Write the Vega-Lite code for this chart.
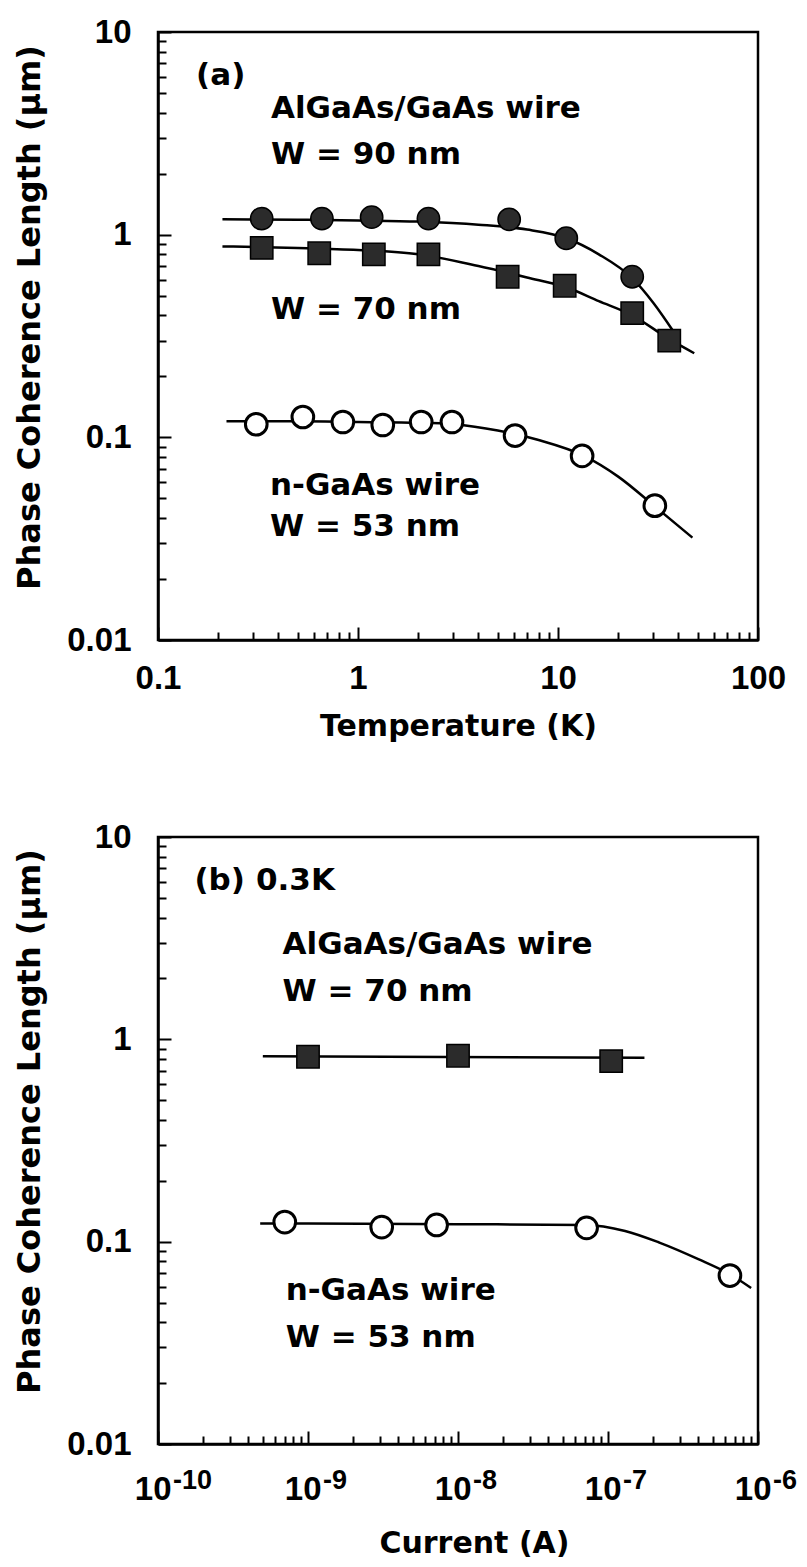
{
  "$schema": "https://vega.github.io/schema/vega-lite/v6.json",
  "background": "white",
  "padding": {"left": 12, "top": 14, "right": 15, "bottom": 5},
  "spacing": 197,
  "bounds": "flush",
  "config": {
    "view": {"stroke": "black", "strokeWidth": 2.5},
    "axis": {
      "grid": false,
      "domainColor": "black",
      "domainWidth": 2.5,
      "tickColor": "black",
      "tickWidth": 2,
      "labelColor": "black",
      "labelFont": "Liberation Sans",
      "labelFontWeight": "bold",
      "labelFontSize": 33,
      "labelOverlap": false,
      "labelFlush": false,
      "titleColor": "black",
      "titleFont": "DejaVu Sans",
      "titleFontWeight": "bold",
      "titleFontSize": 30
    }
  },
  "datasets": {
    "ptsA": [
      {"s": "w90", "T": 0.33, "L": 1.2},
      {"s": "w90", "T": 0.66, "L": 1.2},
      {"s": "w90", "T": 1.17, "L": 1.22},
      {"s": "w90", "T": 2.25, "L": 1.2},
      {"s": "w90", "T": 5.7, "L": 1.19},
      {"s": "w90", "T": 11, "L": 0.96},
      {"s": "w90", "T": 23.5, "L": 0.62},
      {"s": "w70", "T": 0.33, "L": 0.86},
      {"s": "w70", "T": 0.64, "L": 0.81},
      {"s": "w70", "T": 1.2, "L": 0.8},
      {"s": "w70", "T": 2.25, "L": 0.8},
      {"s": "w70", "T": 5.6, "L": 0.62},
      {"s": "w70", "T": 10.8, "L": 0.56},
      {"s": "w70", "T": 23.5, "L": 0.41},
      {"s": "w70", "T": 36, "L": 0.3},
      {"s": "n53", "T": 0.31, "L": 0.116},
      {"s": "n53", "T": 0.53, "L": 0.126},
      {"s": "n53", "T": 0.84, "L": 0.119},
      {"s": "n53", "T": 1.33, "L": 0.115},
      {"s": "n53", "T": 2.07, "L": 0.119},
      {"s": "n53", "T": 2.95, "L": 0.119},
      {"s": "n53", "T": 6.1, "L": 0.102},
      {"s": "n53", "T": 13.2, "L": 0.081},
      {"s": "n53", "T": 30.5, "L": 0.046}
    ],
    "fitA": [
      {"s": "w90", "T": 0.21, "L": 1.19},
      {"s": "w90", "T": 0.5, "L": 1.185},
      {"s": "w90", "T": 1, "L": 1.175},
      {"s": "w90", "T": 2, "L": 1.16},
      {"s": "w90", "T": 4, "L": 1.12},
      {"s": "w90", "T": 7, "L": 1.06},
      {"s": "w90", "T": 11, "L": 0.96},
      {"s": "w90", "T": 16, "L": 0.8},
      {"s": "w90", "T": 23.5, "L": 0.61},
      {"s": "w90", "T": 30, "L": 0.46},
      {"s": "w90", "T": 38, "L": 0.33},
      {"s": "w70", "T": 0.21, "L": 0.875},
      {"s": "w70", "T": 0.5, "L": 0.86},
      {"s": "w70", "T": 1, "L": 0.84},
      {"s": "w70", "T": 2, "L": 0.8},
      {"s": "w70", "T": 4, "L": 0.7},
      {"s": "w70", "T": 7, "L": 0.615},
      {"s": "w70", "T": 11, "L": 0.55},
      {"s": "w70", "T": 16, "L": 0.47},
      {"s": "w70", "T": 23.5, "L": 0.4},
      {"s": "w70", "T": 36, "L": 0.305},
      {"s": "w70", "T": 48, "L": 0.26},
      {"s": "n53", "T": 0.22, "L": 0.12},
      {"s": "n53", "T": 0.5, "L": 0.12},
      {"s": "n53", "T": 1, "L": 0.119},
      {"s": "n53", "T": 2, "L": 0.118},
      {"s": "n53", "T": 3, "L": 0.116},
      {"s": "n53", "T": 5, "L": 0.108},
      {"s": "n53", "T": 8, "L": 0.097},
      {"s": "n53", "T": 13.5, "L": 0.081},
      {"s": "n53", "T": 20, "L": 0.064},
      {"s": "n53", "T": 31, "L": 0.045},
      {"s": "n53", "T": 47, "L": 0.032}
    ],
    "txtA": [
      {"t": "(a)", "T": 0.155, "L": 5.46},
      {"t": "AlGaAs/GaAs wire", "T": 0.367, "L": 3.75},
      {"t": "W = 90 nm", "T": 0.367, "L": 2.23},
      {"t": "W = 70 nm", "T": 0.367, "L": 0.383},
      {"t": "n-GaAs wire", "T": 0.363, "L": 0.0519},
      {"t": "W = 53 nm", "T": 0.363, "L": 0.0325}
    ],
    "ptsB": [
      {"s": "w70", "I": 1e-9, "L": 0.82},
      {"s": "w70", "I": 1e-8, "L": 0.83},
      {"s": "w70", "I": 1.05e-7, "L": 0.78},
      {"s": "n53", "I": 7e-10, "L": 0.125},
      {"s": "n53", "I": 3.1e-9, "L": 0.118},
      {"s": "n53", "I": 7.2e-9, "L": 0.121},
      {"s": "n53", "I": 7.2e-8, "L": 0.117},
      {"s": "n53", "I": 6.5e-7, "L": 0.068}
    ],
    "fitB": [
      {"s": "w70", "I": 5e-10, "L": 0.825},
      {"s": "w70", "I": 1.75e-7, "L": 0.81},
      {"s": "n53", "I": 4.8e-10, "L": 0.123},
      {"s": "n53", "I": 1e-9, "L": 0.123},
      {"s": "n53", "I": 1e-8, "L": 0.122},
      {"s": "n53", "I": 7e-8, "L": 0.121},
      {"s": "n53", "I": 1.3e-7, "L": 0.113},
      {"s": "n53", "I": 2.2e-7, "L": 0.099},
      {"s": "n53", "I": 4e-7, "L": 0.082},
      {"s": "n53", "I": 6.5e-7, "L": 0.069},
      {"s": "n53", "I": 9e-7, "L": 0.059}
    ],
    "txtB": [
      {"t": "(b)", "I": 1.75e-10, "L": 5.47},
      {"t": "0.3K", "I": 4.5e-10, "L": 5.47},
      {"t": "AlGaAs/GaAs wire", "I": 6.77e-10, "L": 2.64},
      {"t": "W = 70 nm", "I": 6.77e-10, "L": 1.55},
      {"t": "n-GaAs wire", "I": 7.1e-10, "L": 0.0514},
      {"t": "W = 53 nm", "I": 7.1e-10, "L": 0.0301}
    ],
    "expB": [
      {"I": 1e-10, "e": "-10"},
      {"I": 1e-9, "e": "-9"},
      {"I": 1e-8, "e": "-8"},
      {"I": 1e-7, "e": "-7"},
      {"I": 1e-6, "e": "-6"}
    ]
  },
  "vconcat": [
    {
      "width": 600,
      "height": 608,
      "layer": [
        {
          "data": {"name": "fitA"},
          "mark": {"type": "line", "interpolate": "monotone", "color": "black", "strokeWidth": 2.5},
          "encoding": {
            "x": {
              "field": "T", "type": "quantitative",
              "scale": {"type": "log", "domain": [0.1, 100], "nice": false},
              "axis": {
                "title": "Temperature (K)",
                "values": [0.1,0.2,0.3,0.4,0.5,0.6,0.7,0.8,0.9,1,2,3,4,5,6,7,8,9,10,20,30,40,50,60,70,80,90,100],
                "labelExpr": "abs(log(datum.value)/LN10 - round(log(datum.value)/LN10)) < 0.001 ? format(datum.value, '~g') : ''",
                "tickSize": {"condition": {"test": "abs(log(datum.value)/LN10 - round(log(datum.value)/LN10)) < 0.001", "value": -13}, "value": -8},
                "labelPadding": 35,
                "titlePadding": 11
              }
            },
            "y": {
              "field": "L", "type": "quantitative",
              "scale": {"type": "log", "domain": [0.01, 10], "nice": false},
              "axis": {
                "title": "Phase Coherence Length (μm)",
                "titleFontSize": 32,
                "titleY": 285,
                "values": [0.01,0.02,0.03,0.04,0.05,0.06,0.07,0.08,0.09,0.1,0.2,0.3,0.4,0.5,0.6,0.7,0.8,0.9,1,2,3,4,5,6,7,8,9,10],
                "labelExpr": "abs(log(datum.value)/LN10 - round(log(datum.value)/LN10)) < 0.001 ? format(datum.value, '~g') : ''",
                "tickSize": {"condition": {"test": "abs(log(datum.value)/LN10 - round(log(datum.value)/LN10)) < 0.001", "value": -13}, "value": -8},
                "labelPadding": 40,
                "titlePadding": 20
              }
            },
            "detail": {"field": "s"}
          }
        },
        {
          "data": {"name": "ptsA"},
          "transform": [{"filter": "datum.s == 'w90'"}],
          "mark": {"type": "point", "shape": "circle", "filled": true, "fill": "#2b2b2b", "stroke": "black", "strokeWidth": 1.5, "size": 500, "opacity": 1},
          "encoding": {"x": {"field": "T", "type": "quantitative"}, "y": {"field": "L", "type": "quantitative"}}
        },
        {
          "data": {"name": "ptsA"},
          "transform": [{"filter": "datum.s == 'w70'"}],
          "mark": {"type": "point", "shape": "square", "filled": true, "fill": "#2b2b2b", "stroke": "black", "strokeWidth": 1.5, "size": 500, "opacity": 1},
          "encoding": {"x": {"field": "T", "type": "quantitative"}, "y": {"field": "L", "type": "quantitative"}}
        },
        {
          "data": {"name": "ptsA"},
          "transform": [{"filter": "datum.s == 'n53'"}],
          "mark": {"type": "point", "shape": "circle", "filled": true, "fill": "white", "stroke": "black", "strokeWidth": 3, "size": 470, "opacity": 1},
          "encoding": {"x": {"field": "T", "type": "quantitative"}, "y": {"field": "L", "type": "quantitative"}}
        },
        {
          "data": {"name": "txtA"},
          "mark": {"type": "text", "align": "left", "baseline": "alphabetic", "font": "DejaVu Sans", "fontWeight": "bold", "fontSize": 31, "color": "black"},
          "encoding": {"x": {"field": "T", "type": "quantitative"}, "y": {"field": "L", "type": "quantitative"}, "text": {"field": "t"}}
        }
      ]
    },
    {
      "width": 600,
      "height": 607,
      "layer": [
        {
          "data": {"name": "fitB"},
          "mark": {"type": "line", "interpolate": "monotone", "color": "black", "strokeWidth": 2.5},
          "encoding": {
            "x": {
              "field": "I", "type": "quantitative",
              "scale": {"type": "log", "domain": [1e-10, 1e-6], "nice": false},
              "axis": {
                "title": "Current (A)",
                "titleX": 316,
                "values": [1e-10,2e-10,3e-10,4e-10,5e-10,6e-10,7e-10,8e-10,9e-10,1e-9,2e-9,3e-9,4e-9,5e-9,6e-9,7e-9,8e-9,9e-9,1e-8,2e-8,3e-8,4e-8,5e-8,6e-8,7e-8,8e-8,9e-8,1e-7,2e-7,3e-7,4e-7,5e-7,6e-7,7e-7,8e-7,9e-7,1e-6],
                "labelExpr": "abs(log(datum.value)/LN10 - round(log(datum.value)/LN10)) < 0.001 ? '10' : ''",
                "labelAlign": "right",
                "labelOffset": 13,
                "tickSize": {"condition": {"test": "abs(log(datum.value)/LN10 - round(log(datum.value)/LN10)) < 0.001", "value": -13}, "value": -8},
                "labelPadding": 42,
                "titlePadding": 17
              }
            },
            "y": {
              "field": "L", "type": "quantitative",
              "scale": {"type": "log", "domain": [0.01, 10], "nice": false},
              "axis": {
                "title": "Phase Coherence Length (μm)",
                "titleFontSize": 32,
                "titleY": 284,
                "values": [0.01,0.02,0.03,0.04,0.05,0.06,0.07,0.08,0.09,0.1,0.2,0.3,0.4,0.5,0.6,0.7,0.8,0.9,1,2,3,4,5,6,7,8,9,10],
                "labelExpr": "abs(log(datum.value)/LN10 - round(log(datum.value)/LN10)) < 0.001 ? format(datum.value, '~g') : ''",
                "tickSize": {"condition": {"test": "abs(log(datum.value)/LN10 - round(log(datum.value)/LN10)) < 0.001", "value": -13}, "value": -8},
                "labelPadding": 40,
                "titlePadding": 20
              }
            },
            "detail": {"field": "s"}
          }
        },
        {
          "data": {"name": "ptsB"},
          "transform": [{"filter": "datum.s == 'w70'"}],
          "mark": {"type": "point", "shape": "square", "filled": true, "fill": "#2b2b2b", "stroke": "black", "strokeWidth": 1.5, "size": 500, "opacity": 1},
          "encoding": {"x": {"field": "I", "type": "quantitative"}, "y": {"field": "L", "type": "quantitative"}}
        },
        {
          "data": {"name": "ptsB"},
          "transform": [{"filter": "datum.s == 'n53'"}],
          "mark": {"type": "point", "shape": "circle", "filled": true, "fill": "white", "stroke": "black", "strokeWidth": 3, "size": 470, "opacity": 1},
          "encoding": {"x": {"field": "I", "type": "quantitative"}, "y": {"field": "L", "type": "quantitative"}}
        },
        {
          "data": {"name": "txtB"},
          "mark": {"type": "text", "align": "left", "baseline": "alphabetic", "font": "DejaVu Sans", "fontWeight": "bold", "fontSize": 31, "color": "black"},
          "encoding": {"x": {"field": "I", "type": "quantitative"}, "y": {"field": "L", "type": "quantitative"}, "text": {"field": "t"}}
        },
        {
          "data": {"name": "expB"},
          "mark": {"type": "text", "align": "left", "baseline": "alphabetic", "font": "Liberation Sans", "fontWeight": "bold", "fontSize": 27, "color": "black", "dx": 15, "dy": 45},
          "encoding": {"x": {"field": "I", "type": "quantitative"}, "y": {"datum": 0.01}, "text": {"field": "e"}}
        }
      ]
    }
  ]
}
